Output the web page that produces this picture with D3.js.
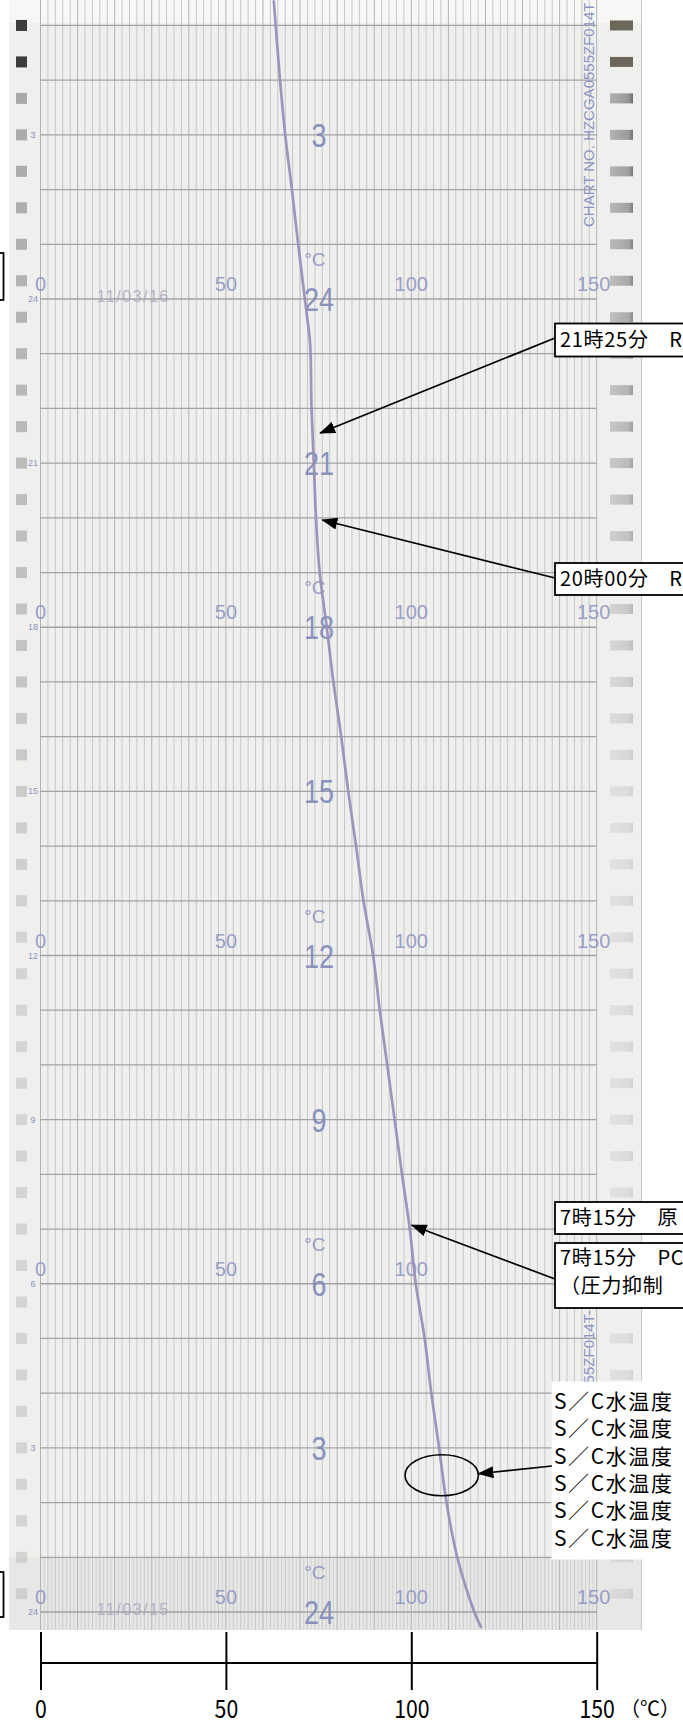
<!DOCTYPE html>
<html><head><meta charset="utf-8">
<script src="https://cdn.jsdelivr.net/npm/d3@7"></script>
<style>html,body{margin:0;padding:0;background:#fff;}svg{display:block;}</style>
</head><body>
<script>
// ---- data ----
// hours since 2011/03/15 00:00 (time axis runs upward)
const hours = [-0.29, 0, 1, 2, 3, 4, 5, 6, 7, 8, 9, 10, 11, 12, 13, 14, 15, 16, 17, 18, 19, 20, 21, 22, 23.2, 23.67, 24, 25, 26, 27, 28, 29.46];
// S/C water temperature (°C)
const temps = [118.9, 117.0, 112.4, 109.5, 107.5, 105.4, 103.6, 101.2, 99.6, 97.5, 95.5, 93.5, 91.5, 89.7, 87.1, 85.1, 83.0, 81.1, 79.0, 77.2, 75.3, 74.3, 73.7, 73.1, 72.7, 71.9, 71.3, 69.5, 67.8, 66.0, 64.6, 62.9];
const axisTicks = [0, 50, 100, 150];
const axisUnit = "（℃）";
const paperScaleTimes = [0, 6, 12, 18, 24];
const hourLabelTimes = [0, 3, 6, 9, 12, 15, 18, 21, 24, 27];
const hourLabels = ["24", "3", "6", "9", "12", "15", "18", "21", "24", "3"];
const dateTimes = [0, 24];
const dateLabels = ["11/03/15", "11/03/16"];
const chartNo = "CHART NO. HZCGA0555ZF014T";
const callouts = [
  {lines: ["21時25分　R"], time: 21.55, temp: 75.4},
  {lines: ["20時00分　R"], time: 19.96, temp: 76.0},
  {lines: ["7時15分　原"], time: null, temp: null},
  {lines: ["7時15分　PC", "（圧力抑制"], time: 7.07, temp: 100.1}
];
const scList = ["S／C水温度", "S／C水温度", "S／C水温度", "S／C水温度", "S／C水温度", "S／C水温度"];
const circledTime = 2.5, circledTemp = 108.2;

// ---- layout ----
const W = 683, H = 1731;
const paper = {x0: 9, x1: 642, y0: 0, y1: 1630};
const x = d3.scaleLinear().domain([0, 150]).range([40.5, 596.7]);
const y = d3.scaleLinear().domain([0, 24]).range([1612, 299]);
const cjk = "'Noto Sans CJK JP', 'Noto Sans', sans-serif";
const sans = "'Liberation Sans', Arial, sans-serif";
const printCol = "#8b93c4";

const svg = d3.select("body").append("svg").attr("width", W).attr("height", H)
  .attr("viewBox", `0 0 ${W} ${H}`);
svg.append("rect").attr("width", W).attr("height", H).attr("fill", "#fff");

const defs = svg.append("defs");
defs.append("clipPath").attr("id", "paperClip").append("rect")
  .attr("x", paper.x0).attr("y", paper.y0).attr("width", paper.x1 - paper.x0).attr("height", paper.y1 - paper.y0);
defs.append("marker").attr("id", "ah").attr("viewBox", "0 0 16 12")
  .attr("markerWidth", 16).attr("markerHeight", 12).attr("markerUnits", "userSpaceOnUse")
  .attr("refX", 15).attr("refY", 6).attr("orient", "auto")
  .append("path").attr("d", "M0,0 L16,6 L0,12 Z").attr("fill", "#000");
const gradR = defs.append("linearGradient").attr("id", "holeR");
gradR.append("stop").attr("offset", "0").attr("stop-color", "#a9aaa8");
gradR.append("stop").attr("offset", "0.8").attr("stop-color", "#8e8f8d");
gradR.append("stop").attr("offset", "1").attr("stop-color", "#5f605e");

// ---- paper ----
const pg = svg.append("g").attr("clip-path", "url(#paperClip)");
pg.append("rect").attr("x", paper.x0).attr("y", paper.y0).attr("width", paper.x1 - paper.x0)
  .attr("height", paper.y1 - paper.y0).attr("fill", "#eff0ed");
pg.append("rect").attr("x", paper.x0).attr("y", 0).attr("width", paper.x1 - paper.x0)
  .attr("height", y(29.05)).attr("fill", "#f7f8f6");
pg.append("rect").attr("x", paper.x0).attr("y", y(1)).attr("width", paper.x1 - paper.x0)
  .attr("height", paper.y1 - y(1)).attr("fill", "#e7e8e5");

// vertical grid (every 2 °C)
const vLines = d3.range(0, 151, 2);
pg.selectAll("line.v").data(vLines).join("line").attr("class", "v")
  .attr("x1", d => x(d)).attr("x2", d => x(d)).attr("y1", 0).attr("y2", paper.y1)
  .attr("stroke", d => d % 10 === 0 ? "#b2b3b4" : "#c6c7c8").attr("stroke-width", 1);
// denser lines in the bottom band
pg.selectAll("line.v2").data(d3.range(1, 150, 2)).join("line").attr("class", "v2")
  .attr("x1", d => x(d)).attr("x2", d => x(d)).attr("y1", y(1)).attr("y2", paper.y1)
  .attr("stroke", "#d0d1d1").attr("stroke-width", 1);
// horizontal grid (every hour)
const hLines = d3.range(0, 30, 1);
pg.selectAll("line.h").data(hLines).join("line").attr("class", "h")
  .attr("x1", x(0)).attr("x2", x(150)).attr("y1", d => y(d)).attr("y2", d => y(d))
  .attr("stroke", "#a2a3a3").attr("stroke-width", 1.3);

// sprocket holes
const holes = d3.range(0, 46).map(k => 29 - k * 2 / 3).filter(t => y(t) < paper.y1 - 4);
pg.selectAll("rect.hl").data(holes).join("rect").attr("class", "hl")
  .attr("x", 16).attr("y", d => y(d) - 5.5).attr("width", 11).attr("height", 11)
  .attr("fill", d => y(d) < 70 ? "#3c3c3c" : "#a3a4a3")
  .attr("opacity", d => y(d) < 70 ? 1 : Math.max(0.35, 1 - y(d) / 1500));
pg.selectAll("rect.hr").data(holes).join("rect").attr("class", "hr")
  .attr("x", 610).attr("y", d => y(d) - 5).attr("width", 23).attr("height", 10)
  .attr("fill", d => y(d) < 70 ? "#6c6758" : "url(#holeR)")
  .attr("opacity", d => y(d) < 70 ? 1 : Math.max(0.2, 1 - y(d) / 1000));
pg.append("line").attr("x1", paper.x1 - 0.5).attr("x2", paper.x1 - 0.5).attr("y1", 0).attr("y2", paper.y1)
  .attr("stroke", "#c9cac8");

// printed scale labels (the 150 at 6 o'clock is hidden under a callout box)
paperScaleTimes.forEach(t => {
  pg.selectAll(null).data(axisTicks.filter(d => !(t === 6 && d === 150))).join("text")
    .attr("x", d => d === 150 ? x(d) - 3 : x(d)).attr("y", y(t) - 8)
    .attr("text-anchor", "middle").attr("font-family", sans)
    .attr("font-size", 20).attr("fill", printCol).attr("opacity", 0.85).text(d => d);
  pg.append("text").attr("x", x(74)).attr("y", y(t) - 33).attr("text-anchor", "middle")
    .attr("font-family", sans).attr("font-size", 19)
    .attr("fill", printCol).attr("opacity", 0.85).text("°C");
});
// big hour numbers
pg.selectAll("text.big").data(hourLabelTimes).join("text").attr("class", "big")
  .attr("transform", d => `translate(${x(75.1)},${y(d) + 12}) scale(0.82,1)`)
  .attr("text-anchor", "middle")
  .attr("font-family", sans).attr("font-size", 33)
  .attr("fill", "#7f89b9").attr("opacity", 0.9).text((d, i) => hourLabels[i]);
// small margin hour numbers
pg.selectAll("text.sm").data(hourLabelTimes).join("text").attr("class", "sm")
  .attr("x", 33).attr("y", d => y(d) + 3).attr("text-anchor", "middle")
  .attr("font-family", sans).attr("font-size", 9)
  .attr("fill", printCol).text((d, i) => hourLabels[i]);
// dates
pg.selectAll("text.date").data(dateTimes).join("text").attr("class", "date")
  .attr("x", x(25)).attr("y", d => y(d) + 3).attr("text-anchor", "middle")
  .attr("font-family", sans).attr("font-size", 16)
  .attr("letter-spacing", 1.5).attr("fill", "#aaa3c2").attr("opacity", 0.8).text((d, i) => dateLabels[i]);
// chart numbers (vertical)
pg.append("text").attr("transform", `translate(594,${227}) rotate(-90)`)
  .attr("font-family", sans).attr("font-size", 15)
  .attr("fill", printCol).text(chartNo);
pg.append("text").attr("transform", `translate(594,${1310}) rotate(-90)`).attr("text-anchor", "end")
  .attr("font-family", sans).attr("font-size", 15)
  .attr("fill", printCol).text(chartNo + "-");

// trace
const pts = hours.map((h, i) => ({h, t: temps[i]}));
pg.append("path").datum(pts)
  .attr("d", d3.line().x(d => x(d.t)).y(d => y(d.h)).curve(d3.curveCatmullRom.alpha(0.5)))
  .attr("fill", "none").attr("stroke", "#9a8eb9").attr("stroke-width", 2.7).attr("opacity", 0.95);

// ---- annotations ----
const ann = svg.append("g").attr("font-family", cjk).attr("font-size", 20).attr("fill", "#000");
// left clipped boxes
[[253, 300], [1572, 1617]].forEach(([a, b]) => {
  ann.append("rect").attr("x", -20).attr("y", a).attr("width", 23.5).attr("height", b - a)
    .attr("fill", "#fff").attr("stroke", "#000").attr("stroke-width", 1.8);
});
const boxL = 555;
const boxes = [
  {top: 323.5, bot: 356.5, from: [boxL, 338], base: [23]},
  {top: 563, bot: 595, from: [boxL, 578], base: [23]},
  {top: 1202, bot: 1234, from: null, base: [22.5]},
  {top: 1243, bot: 1308, from: [boxL, 1279], base: [21.5, 50]}
];
callouts.forEach((c, i) => {
  const b = boxes[i];
  if (c.time !== null) {
    ann.append("line").attr("x1", b.from[0]).attr("y1", b.from[1])
      .attr("x2", x(c.temp)).attr("y2", y(c.time))
      .attr("stroke", "#000").attr("stroke-width", 1.7).attr("marker-end", "url(#ah)");
  }
  ann.append("rect").attr("x", boxL).attr("y", b.top).attr("width", 160).attr("height", b.bot - b.top)
    .attr("fill", "#fff").attr("stroke", "#000").attr("stroke-width", 1.8);
  c.lines.forEach((ln, j) => {
    ann.append("text").attr("x", boxL + 5).attr("y", b.top + b.base[j])
      .attr("letter-spacing", 0.7).text(ln);
  });
});
// S/C list
ann.append("rect").attr("x", 551.5).attr("y", 1381.5).attr("width", 140).attr("height", 178).attr("fill", "#fff");
ann.selectAll("text.sc").data(scList).join("text").attr("class", "sc")
  .attr("x", 554).attr("y", (d, i) => 1409 + i * 27.3).attr("font-size", 21)
  .attr("letter-spacing", 1.6).text(d => d);
ann.append("ellipse").attr("cx", x(circledTemp)).attr("cy", y(circledTime)).attr("rx", 36.7).attr("ry", 20.5)
  .attr("fill", "none").attr("stroke", "#000").attr("stroke-width", 1.6);
ann.append("line").attr("x1", 552).attr("y1", 1466)
  .attr("x2", x(circledTemp) + 36.7).attr("y2", y(circledTime) - 1.5)
  .attr("stroke", "#000").attr("stroke-width", 1.7).attr("marker-end", "url(#ah)");

// ---- bottom temperature axis ----
const axG = svg.append("g").attr("transform", `translate(0,1632)`)
  .call(d3.axisBottom(x).tickValues(axisTicks).tickSize(58).tickPadding(10));
axG.select(".domain").remove();
axG.selectAll(".tick line").attr("stroke", "#000").attr("stroke-width", 2);
axG.selectAll(".tick text").attr("font-family", cjk).attr("font-size", 25).attr("fill", "#000")
  .attr("transform", "scale(0.85,1)");
svg.append("line").attr("x1", x(0)).attr("x2", x(150)).attr("y1", 1663).attr("y2", 1663)
  .attr("stroke", "#000").attr("stroke-width", 2);
svg.append("text").attr("x", 620).attr("y", 1716).attr("font-family", cjk).attr("font-size", 20)
  .attr("fill", "#000").text(axisUnit);
</script>
</body></html>
